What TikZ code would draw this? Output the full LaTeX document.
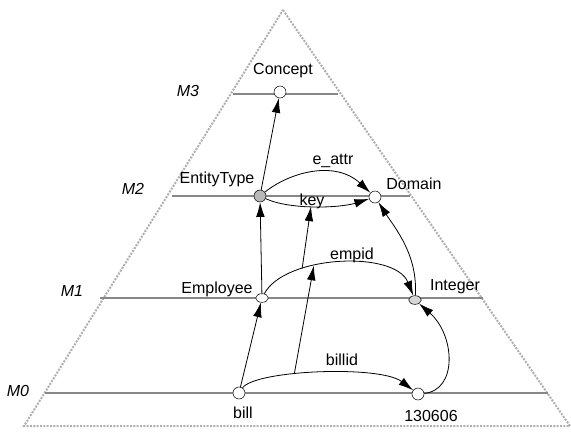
\documentclass[tikz,border=0pt]{standalone}
\usepackage{fontspec}
\setmainfont{Liberation Sans}
\usetikzlibrary{arrows.meta,shapes.geometric}
\definecolor{tier_gray}{RGB}{135,135,135}
\definecolor{rim_gray}{RGB}{175,175,175}
\definecolor{fill_gray}{RGB}{185,185,185}

\begin{document}
\begin{tikzpicture}[x=0.75pt,y=-0.75pt,semithick,>={Latex[length=11pt,width=6.5pt]}]
    \tikzstyle{obj}=[draw=black, thin, circle, inner sep=0pt, minimum size=9pt, fill=white]
    \tikzstyle{flat}=[obj, ellipse, minimum width=9.5pt, minimum height=6.5pt]
    \tikzstyle{lab}=[font=\fontsize{12}{14}\selectfont, inner sep=1pt]
    \tikzstyle{lvl}=[font=\fontsize{12}{14}\selectfont\itshape, inner sep=1pt]
    \tikzstyle{tier}=[draw=tier_gray, line width=1.6pt]
    \tikzstyle{rim}=[draw=rim_gray, line width=1.5pt, densely dotted]

    \useasboundingbox (0,0) rectangle (571,436);

    % pyramid and meta levels
    \draw[rim] (283,10) -- (570,426) -- (24,426) -- cycle;
    \draw[tier] (233,94) -- (338,94);
    \draw[tier] (172,196) -- (410,196);
    \draw[tier] (100,298) -- (483,298);
    \draw[tier] (45,393) -- (548,393);

    \node[lvl] (m3) at (188,91)  {M3};
    \node[lvl] (m2) at (133,189) {M2};
    \node[lvl] (m1) at (72,291)  {M1};
    \node[lvl] (m0) at (18,391)  {M0};

    % objects
    \node[obj] (concept)    at (280,92)  {};
    \node[obj, fill=fill_gray] (entitytype) at (260,196) {};
    \node[obj] (domain)     at (375,197) {};
    \node[flat] (employee)  at (262,298) {};
    \node[flat, fill=fill_gray!60] (integer) at (415,300) {};
    \node[obj] (bill)       at (239,393) {};
    \node[obj] (value)      at (418,394) {};

    \node[lab] (concept_lab)    at (283,71)  {Concept};
    \node[lab] (entitytype_lab) at (217,179) {EntityType};
    \node[lab] (domain_lab)     at (414,184) {Domain};
    \node[lab] (employee_lab)   at (217,289) {Employee};
    \node[lab] (integer_lab)    at (455,287) {Integer};
    \node[lab] (bill_lab)       at (243,413) {bill};
    \node[lab] (value_lab)      at (431,416) {130606};

    \node[lab] (eattr_lab)  at (333,161) {e\_attr};
    \node[lab] (key_lab)    at (312,201) {key};
    \node[lab] (empid_lab)  at (352,255) {empid};
    \node[lab] (billid_lab) at (342,360) {billid};

    % instance-of links
    \path[->]
     (entitytype) edge (concept)
     (employee) edge (entitytype)
     (bill) edge (employee)
     ;
    \draw[->] (integer) .. controls (418,255) and (395,228) .. (domain);
    \draw[->] (value) .. controls (458,390) and (455,335) .. (integer);

    % attributes
    \draw[->] (entitytype) .. controls (290,172) and (335,160) .. (domain);
    \draw[->] (entitytype) .. controls (290,210) and (340,208) .. (domain)
      coordinate[pos=0.46] (key_in);
    \draw[->] (employee) .. controls (285,255) and (395,250) .. (integer)
      coordinate[pos=0.3] (empid_out) coordinate[pos=0.365] (empid_in);
    \draw[->] (bill) .. controls (255,370) and (380,365) .. (value)
      coordinate[pos=0.38] (billid_out);

    \path[->]
     (billid_out) edge (empid_in)
     (empid_out) edge (key_in)
     ;
\end{tikzpicture}
\end{document}
